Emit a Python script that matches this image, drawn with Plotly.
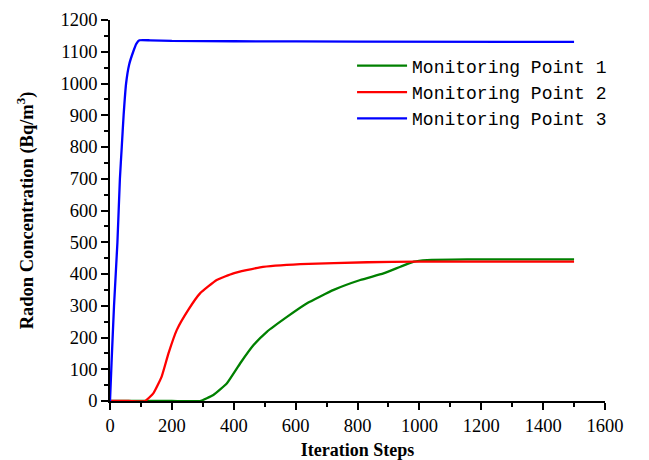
import plotly.graph_objects as go

# Monitoring Point 1 (green)
p1_x = [0, 100, 200, 291, 334, 378, 421, 464, 507, 572, 637, 723, 809, 884, 939, 982, 1025, 1154, 1300, 1500]
p1_y = [0, 0, 0, 0, 19, 56, 119, 176, 218, 265, 308, 350, 381, 402, 423, 439, 444, 446, 446, 446]

# Monitoring Point 2 (red)
p2_x = [0, 60, 113, 140, 167, 189, 216, 253, 291, 345, 399, 485, 615, 831, 993, 1200, 1500]
p2_y = [0, 0, 0, 24, 77, 150, 224, 287, 339, 381, 402, 421, 431, 437, 439, 439, 439]

# Monitoring Point 3 (blue)
p3_x = [0, 5, 13, 24, 32, 38, 44, 52, 62, 75, 85, 95, 130, 200, 400, 800, 1500]
p3_y = [0, 120, 300, 500, 700, 800, 900, 1000, 1060, 1100, 1125, 1136, 1136, 1134, 1133, 1132, 1131]

names = ["Monitoring Point 1", "Monitoring Point 2", "Monitoring Point 3"]
colors = ["#008000", "#ff0000", "#0000ff"]

fig = go.Figure()
for xs, ys, n, c in zip([p1_x, p2_x, p3_x], [p1_y, p2_y, p3_y], names, colors):
    fig.add_trace(go.Scatter(x=xs, y=ys, mode="lines", name=n,
                             line=dict(color=c, width=2.3, shape="spline", smoothing=0.4)))

axis_common = dict(
    showline=True, linecolor="black", linewidth=1.5, mirror=False,
    showgrid=False, zeroline=False, automargin=False,
    ticks="outside", ticklen=7, tickwidth=1.5, tickcolor="black",
    tickfont=dict(family="Liberation Serif", size=18.5, color="black"),
)

fig.update_xaxes(range=[0, 1600], dtick=200, tick0=0,
                 minor=dict(ticks="outside", ticklen=4, tickwidth=1.5, tickcolor="black", dtick=100),
                 title=dict(text="<b>Iteration Steps</b>", font=dict(family="Liberation Serif", size=18, color="black"),
                            standoff=10),
                 **axis_common)
fig.update_yaxes(range=[0, 1200], dtick=100, tick0=0,
                 minor=dict(ticks="outside", ticklen=4, tickwidth=1.5, tickcolor="black", dtick=50),
                 title=dict(text="<b>Radon Concentration (Bq/m<sup>3</sup>)</b>",
                            font=dict(family="Liberation Serif", size=18.5, color="black"), standoff=22),
                 **axis_common)

fig.update_layout(
    width=641, height=452,
    margin=dict(l=102, r=44, t=12, b=59),
    plot_bgcolor="white", paper_bgcolor="white",
    legend=dict(x=0.489, y=0.928, xanchor="left", yanchor="top",
                font=dict(family="Liberation Mono", size=18, color="black"),
                bgcolor="rgba(0,0,0,0)", itemwidth=50, tracegroupgap=0),
    showlegend=True,
)

fig.write_html("out.html")
